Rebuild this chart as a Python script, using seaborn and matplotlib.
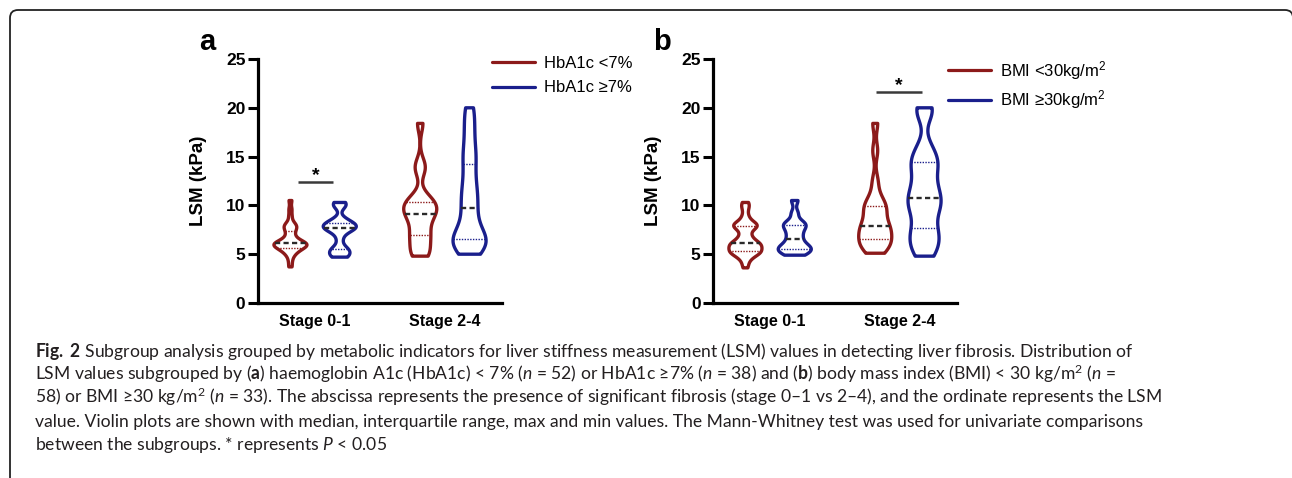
import numpy as np
import pandas as pd
import matplotlib
matplotlib.use("Agg")
import matplotlib.pyplot as plt
import seaborn as sns
from matplotlib.lines import Line2D
from matplotlib.patches import FancyBboxPatch
from matplotlib.transforms import IdentityTransform

# ---------------- data ----------------
stages = ["Stage 0-1", "Stage 2-4"]
hba1c_groups = ["HbA1c <7%", "HbA1c \u22657%"]
bmi_groups = ["BMI <30kg/m$^2$", "BMI \u226530kg/m$^2$"]
yticks = [0, 5, 10, 15, 20, 25]

# panel a: LSM (kPa) observations
a_lt7_s01 = [3.7, 4.3, 4.8, 5.0, 5.2, 5.4, 5.5, 5.5, 5.6, 5.7, 5.8, 5.9, 5.9, 6.0, 6.0, 6.0, 6.1,
             6.1, 6.2, 6.3, 6.4, 6.5, 6.7, 6.9, 7.2, 7.4, 7.6, 7.8, 7.9, 8.0, 8.3, 8.9, 9.6, 10.5]
a_ge7_s01 = [4.7, 4.8, 5.0, 5.3, 5.5, 5.6, 6.5, 7.2, 7.5, 7.6, 7.7, 7.8, 7.9, 8.0, 8.2, 8.3,
             8.6, 9.9, 10.1, 10.3]
a_lt7_s24 = [4.8, 5.0, 5.6, 6.3, 6.9, 7.2, 7.9, 8.7, 9.0, 9.2, 9.6, 10.0, 10.2, 10.4, 10.9,
             13.6, 14.2, 18.4]
a_ge7_s24 = [5.0, 5.6, 6.0, 6.2, 6.5, 6.7, 7.3, 8.2, 9.2, 10.2, 11.0, 12.0, 13.2, 14.6, 15.5,
             17.0, 18.5, 20.0]

# panel b
b_lt30_s01 = [3.6, 4.1, 4.5, 4.7, 4.9, 5.0, 5.1, 5.2, 5.2, 5.3, 5.4, 5.5, 5.6, 5.7, 5.8, 5.9,
              6.0, 6.0, 6.1, 6.2, 6.3, 6.5, 6.7, 6.9, 7.2, 7.5, 7.7, 7.8, 7.9, 8.0, 8.0, 8.1,
              8.3, 8.6, 9.0, 9.6, 10.0, 10.3]
b_ge30_s01 = [4.9, 5.1, 5.3, 5.5, 5.6, 5.8, 6.0, 6.4, 6.8, 7.2, 7.6, 7.9, 8.1, 8.3, 9.2, 10.5]
b_lt30_s24 = [5.1, 5.4, 5.8, 6.1, 6.3, 6.6, 6.9, 7.3, 7.7, 7.8, 8.0, 8.6, 9.2, 9.7, 9.9, 10.2,
              11.0, 12.5, 15.6, 18.4]
b_ge30_s24 = [4.8, 5.6, 6.4, 7.0, 7.7, 9.0, 9.8, 10.3, 10.8, 11.6, 12.4, 13.6, 14.4, 14.8,
              16.0, 19.5, 20.0]

caption_lines = [
    r"$\mathbf{Fig.}$ $\mathbf{2}$ Subgroup analysis grouped by metabolic indicators for liver stiffness measurement (LSM) values in detecting liver fibrosis. Distribution of",
    r"LSM values subgrouped by ($\mathbf{a}$) haemoglobin A1c (HbA1c) < 7% ($\mathit{n}$ = 52) or HbA1c " "\u2265" r"7% ($\mathit{n}$ = 38) and ($\mathbf{b}$) body mass index (BMI) < 30 kg/m$^2$ ($\mathit{n}$ =",
    r"58) or BMI " "\u2265" r"30 kg/m$^2$ ($\mathit{n}$ = 33). The abscissa represents the presence of significant fibrosis (stage 0" "\u2013" r"1 vs 2" "\u2013" r"4), and the ordinate represents the LSM",
    r"value. Violin plots are shown with median, interquartile range, max and min values. The Mann-Whitney test was used for univariate comparisons",
    r"between the subgroups. * represents $\mathit{P}$ < 0.05",
]


def build(groups, s01_lo, s01_hi, s24_lo, s24_hi):
    rows = []
    for stage, grp, vals in [(stages[0], groups[0], s01_lo), (stages[0], groups[1], s01_hi),
                             (stages[1], groups[0], s24_lo), (stages[1], groups[1], s24_hi)]:
        for v in vals:
            rows.append((stage, grp, v))
    return pd.DataFrame(rows, columns=["stage", "group", "lsm"])


df_a = build(hba1c_groups, a_lt7_s01, a_ge7_s01, a_lt7_s24, a_ge7_s24)
df_b = build(bmi_groups, b_lt30_s01, b_ge30_s01, b_lt30_s24, b_ge30_s24)

# ---------------- style ----------------
sns.set_theme(style="white")
plt.rcParams["font.family"] = ["Liberation Sans", "DejaVu Sans"]
plt.rcParams["mathtext.fontset"] = "custom"
plt.rcParams["mathtext.rm"] = "Lato"
plt.rcParams["mathtext.it"] = "Lato:italic"
plt.rcParams["mathtext.bf"] = "Lato:bold"
plt.rcParams["mathtext.default"] = "regular"

RED = "#8c1a1a"
BLUE = "#1a1f8c"
W, H = 1292, 478
fig = plt.figure(figsize=(W / 100, H / 100), dpi=100)


def px_axes(left, right, top, bottom):
    return fig.add_axes([left / W, 1 - bottom / H, (right - left) / W, (bottom - top) / H])


def draw_panel(ax, df, groups, letter, sig_x, sig_y, leg_xy, leg_spacing):
    sns.violinplot(data=df, x="stage", y="lsm", hue="group", order=stages, hue_order=groups,
                   palette=[RED, BLUE], fill=False, inner="quart", cut=0,
                   density_norm="width", bw_adjust=0.45, width=0.76, gap=0.33,
                   linewidth=2.4, ax=ax, legend=False)
    # restyle quartile lines: median dashed dark, quartiles dotted thin
    for i, ln in enumerate(ax.lines):
        if i % 3 == 1:
            ln.set_color("#2a2a2a")
            ln.set_linewidth(1.7)
            ln.set_linestyle((0, (2.2, 1.4)))
        else:
            ln.set_linewidth(1.0)
            ln.set_linestyle((0, (1, 1)))
    ax.set_ylim(0, 25)
    ax.set_xlim(-0.44, 1.44)
    ax.set_yticks(yticks, labels=[str(t) for t in yticks], fontweight="bold", fontsize=12.5)
    ax.set_xticks([0, 1], labels=stages, fontweight="bold", fontsize=11.5)
    ax.tick_params(axis="y", direction="out", length=7, width=2.2, pad=2, color="black",
                   left=True, labelcolor="black")
    ax.tick_params(axis="x", length=0, pad=8, labelcolor="black")
    for side in ["top", "right"]:
        ax.spines[side].set_visible(False)
    for side in ["left", "bottom"]:
        ax.spines[side].set_linewidth(2.3)
        ax.spines[side].set_color("black")
    ax.set_xlabel("")
    ax.set_ylabel("LSM (kPa)", fontweight="bold", fontsize=13.5, color="black")
    ax.yaxis.set_label_coords(-0.209, 0.5)
    ax.text(-0.21, 1.07, letter, transform=ax.transAxes, fontsize=21, fontweight="bold",
            ha="center", va="center", color="black")
    # significance marker
    ax.plot(sig_x, [sig_y, sig_y], color="#3a3a3a", lw=1.8, solid_capstyle="butt")
    ax.text(np.mean(sig_x), sig_y + 0.15, "*", ha="center", va="baseline", fontsize=14,
            fontweight="bold", color="black")
    handles = [Line2D([], [], color=RED, lw=2.3), Line2D([], [], color=BLUE, lw=2.3)]
    fig.legend(handles, groups, loc="upper left", bbox_to_anchor=leg_xy,
               bbox_transform=fig.transFigure, frameon=False, fontsize=12,
               handlelength=2.6, handletextpad=0.5, borderpad=0, borderaxespad=0,
               labelspacing=leg_spacing, labelcolor="black")


ax_a = px_axes(258, 502, 59, 303)
ax_b = px_axes(713, 957, 59, 303)
draw_panel(ax_a, df_a, hba1c_groups, "a", [-0.13, 0.14], 12.43,
           (492 / W, 1 - 55.5 / H), 0.6)
draw_panel(ax_b, df_b, bmi_groups, "b", [1 - 0.185, 1 + 0.167], 21.65,
           (948 / W, 1 - 59 / H), 0.4)

# ---------------- frame ----------------
frame = FancyBboxPatch((10, -20), 1283, 488, boxstyle="round,pad=0,rounding_size=8",
                       fill=False, lw=1.3, ec="#222222", transform=IdentityTransform(),
                       clip_on=False)
fig.add_artist(frame)

# ---------------- caption ----------------
baselines = [357, 380, 403, 427, 450]
cap_texts = []
for line, yb in zip(caption_lines, baselines):
    t = fig.text(35 / W, 1 - yb / H, line, fontsize=12, family=["Lato", "DejaVu Sans"],
                 color="#231f20", ha="left", va="baseline")
    cap_texts.append(t)
fig.canvas.draw()
renderer = fig.canvas.get_renderer()
w0 = cap_texts[0].get_window_extent(renderer).width
scale = (1132 - 35) / w0
for t in cap_texts:
    t.set_fontsize(12 * scale)

fig.savefig("out.png", dpi=100)
